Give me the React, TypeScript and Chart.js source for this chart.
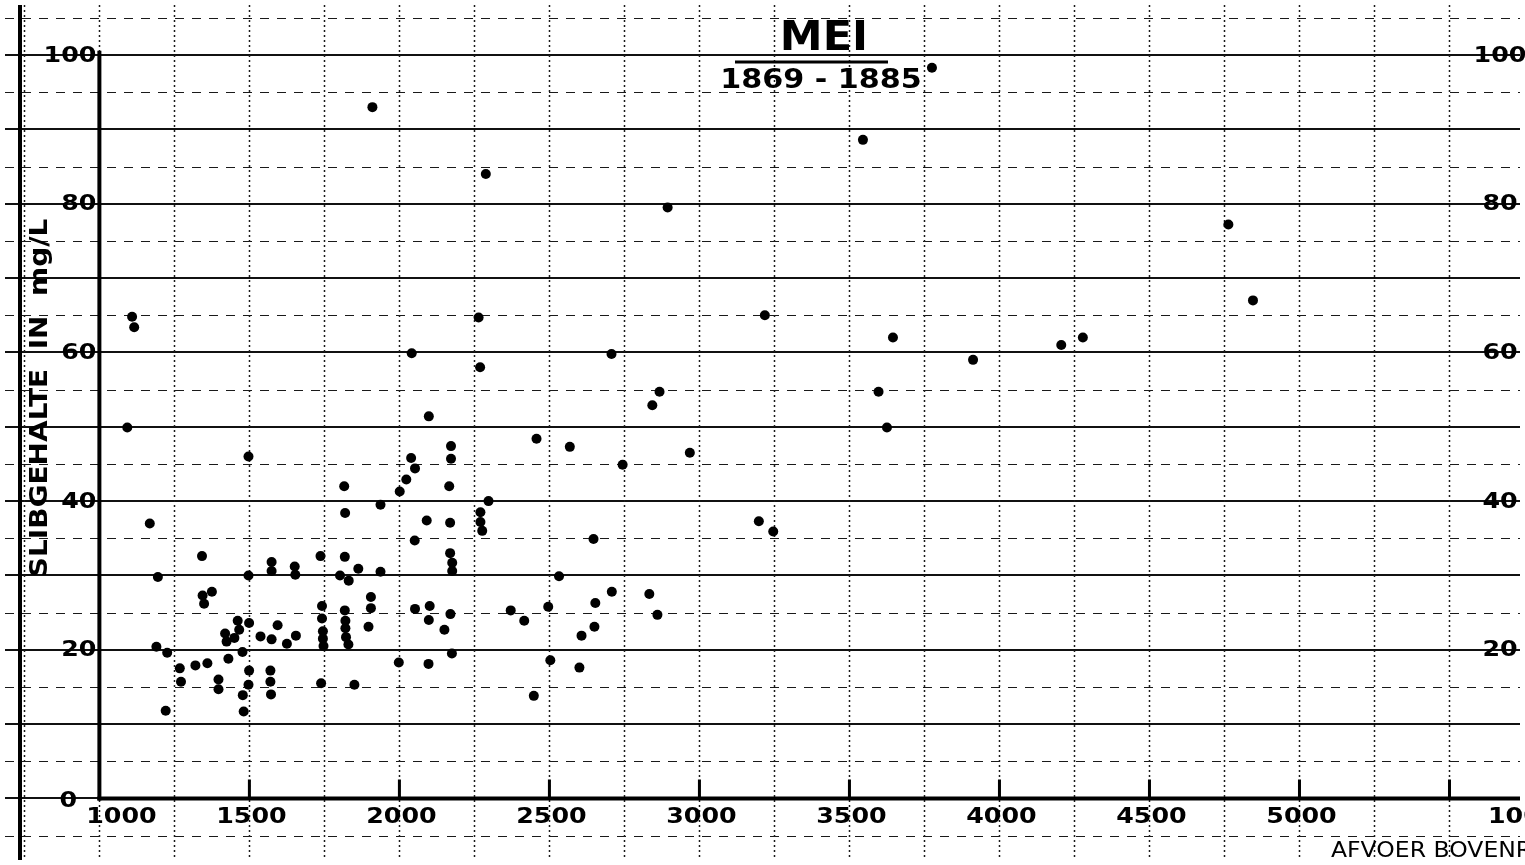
import React, { useEffect, useRef } from "react";
import { Chart, registerables } from "chart.js";

Chart.register(...registerables);

// Afvoer (m3/s) and slibgehalte (mg/L)
const afvoer = [
  1093, 1109, 1116, 1168, 1190, 1195, 1221, 1226, 1268, 1272,
  1320, 1342, 1344, 1349, 1360, 1375, 1397, 1397, 1419, 1424,
  1430, 1450, 1461, 1466, 1477, 1478, 1481, 1497, 1497, 1497,
  1499, 1499, 1537, 1570, 1570, 1572, 1574, 1574, 1574, 1594,
  1625, 1651, 1653, 1655, 1737, 1739, 1742, 1742, 1745, 1745,
  1747, 1802, 1816, 1818, 1818, 1819, 1820, 1820, 1822, 1830,
  1831, 1850, 1863, 1897, 1905, 1905, 1910, 1937, 1937, 1998,
  2001, 2023, 2039, 2041, 2051, 2052, 2052, 2091, 2097, 2098,
  2098, 2101, 2150, 2166, 2169, 2169, 2170, 2172, 2172, 2175,
  2176, 2176, 2264, 2269, 2270, 2270, 2276, 2288, 2297, 2371,
  2416, 2448, 2457, 2496, 2503, 2532, 2568, 2600, 2607, 2647,
  2650, 2653, 2707, 2708, 2744, 2833, 2843, 2860, 2867, 2894,
  2968, 3198, 3218, 3246, 3545, 3597, 3625, 3645, 3775, 3912,
  4206, 4278, 4763, 4845,
];
const slib = [
  49.9, 64.8, 63.4, 37.0, 20.4, 29.8, 11.8, 19.6, 17.5, 15.7,
  17.9, 32.6, 27.3, 26.2, 18.2, 27.8, 16.0, 14.7, 22.2, 21.1,
  18.8, 21.6, 23.9, 22.7, 19.7, 13.9, 11.7, 46.0, 30.0, 15.3,
  23.6, 17.2, 21.8, 17.2, 15.7, 14.0, 31.8, 30.6, 21.4, 23.3,
  20.8, 31.2, 30.1, 21.9, 32.6, 15.5, 25.9, 24.2, 22.5, 21.5,
  20.5, 30.0, 42.0, 32.5, 25.3, 38.4, 23.9, 22.9, 21.7, 20.7,
  29.3, 15.3, 30.9, 23.1, 27.1, 25.6, 93.0, 39.5, 30.5, 18.3,
  41.3, 42.9, 45.8, 59.9, 34.7, 44.4, 25.5, 37.4, 18.1, 51.4,
  24.0, 25.9, 22.7, 42.0, 37.1, 33.0, 24.8, 47.4, 45.7, 19.5,
  31.7, 30.6, 64.7, 58.0, 38.5, 37.2, 36.0, 84.0, 40.0, 25.3,
  23.9, 13.8, 48.4, 25.8, 18.6, 29.9, 47.3, 17.6, 21.9, 34.9,
  23.1, 26.3, 59.8, 27.8, 44.9, 27.5, 52.9, 24.7, 54.7, 79.5,
  46.5, 37.3, 65.0, 35.9, 88.6, 54.7, 49.9, 62.0, 98.3, 59.0,
  61.0, 62.0, 77.2, 67.0,
];

const xTickLabels = [1000, 1500, 2000, 2500, 3000, 3500, 4000, 4500, 5000];
const xTickMarks = [1500, 2000, 2500, 3000, 3500, 4000, 4500, 5000, 5500];
const yTickLabels = [0, 20, 40, 60, 80, 100];
const rightYLabels = [20, 40, 60, 80, 100];
const cutLabel = "10000";
const titleText = "MEI";
const subtitleText = "1869 - 1885";
const yTitle = "SLIBGEHALTE  IN  mg/L";
const xTitle = "AFVOER BOVENRIJN IN m³/sec";

const X_MIN = 685.4;
const X_MAX = 5735;
const Y_MIN = -8.28;
const Y_MAX = 106.74;
const X_GRID_STEP = 250;
const Y_MINOR_STEP = 5;

function drawText(
  ctx: CanvasRenderingContext2D,
  text: string,
  x: number,
  y: number,
  font: string,
  align: CanvasTextAlign,
  sx = 1
) {
  ctx.save();
  ctx.translate(x, y);
  ctx.scale(sx, 1);
  ctx.font = font;
  ctx.textAlign = align;
  ctx.textBaseline = "middle";
  ctx.fillStyle = "#000";
  ctx.fillText(text, 0, 0);
  ctx.restore();
}

const gridPlugin = {
  id: "dashedGrid",
  beforeDatasetsDraw(chart: any) {
    const { ctx, scales, chartArea } = chart;
    const x = scales.x;
    const y = scales.y;
    ctx.save();
    ctx.strokeStyle = "#1a1a1a";
    // vertical dotted lines every 250
    ctx.lineWidth = 1.5;
    ctx.setLineDash([2, 3]);
    ctx.beginPath();
    for (let v = Math.ceil(x.min / X_GRID_STEP) * X_GRID_STEP; v <= x.max; v += X_GRID_STEP) {
      const p = Math.round(x.getPixelForValue(v)) + 0.5;
      ctx.moveTo(p, chartArea.top);
      ctx.lineTo(p, chartArea.bottom);
    }
    ctx.stroke();
    // horizontal dashed lines at the odd fives
    ctx.lineWidth = 1.2;
    ctx.setLineDash([9, 8]);
    ctx.beginPath();
    for (let v = Math.ceil(y.min / Y_MINOR_STEP) * Y_MINOR_STEP; v <= y.max; v += Y_MINOR_STEP) {
      if (Math.abs(v % 10) < 1e-6) continue;
      const p = Math.round(y.getPixelForValue(v)) + 0.5;
      ctx.moveTo(chartArea.left, p);
      ctx.lineTo(chartArea.right, p);
    }
    ctx.stroke();
    ctx.restore();
  },
};

const decorPlugin = {
  id: "decor",
  beforeDatasetsDraw(chart: any) {
    const { ctx, scales, chartArea } = chart;
    const x = scales.x;
    const y = scales.y;
    const px = (v: number) => x.getPixelForValue(v);
    const py = (v: number) => y.getPixelForValue(v);
    ctx.save();
    ctx.strokeStyle = "#000";
    ctx.lineCap = "butt";
    ctx.setLineDash([]);

    // neighbouring sheet edge line
    ctx.lineWidth = 4;
    ctx.beginPath();
    ctx.moveTo(chartArea.left + 15, chartArea.top);
    ctx.lineTo(chartArea.left + 15, chartArea.bottom);
    ctx.stroke();

    // y axis
    ctx.lineWidth = 4;
    ctx.beginPath();
    ctx.moveTo(px(1000), py(100.6));
    ctx.lineTo(px(1000), py(0) + 2);
    ctx.stroke();
    // x axis
    ctx.beginPath();
    ctx.moveTo(px(1000) - 2, py(0));
    ctx.lineTo(chartArea.right, py(0));
    ctx.stroke();

    // tick marks (upward)
    ctx.lineWidth = 3;
    ctx.beginPath();
    for (const t of xTickMarks) {
      ctx.moveTo(px(t), py(0));
      ctx.lineTo(px(t), py(0) - 19);
    }
    ctx.stroke();
    ctx.restore();

    const tickFont = "bold 22px 'DejaVu Sans'";
    // x tick labels
    for (const t of xTickLabels) {
      const off = t === 1000 ? 22 : 2;
      drawText(ctx, String(t), px(t) + off, py(0) + 19, tickFont, "center", 1.15);
    }
    drawText(ctx, cutLabel, chartArea.right - 32, py(0) + 19, tickFont, "left", 1.15);

    // y tick labels (left)
    for (const t of yTickLabels) {
      if (t === 0) {
        drawText(ctx, "0", px(1000) - 31, py(0) + 3, tickFont, "center", 1.15);
      } else {
        drawText(ctx, String(t), px(1000) - 3, py(t) + 1, tickFont, "right", 1.15);
      }
    }
    // y tick labels (right, cut off by the page edge)
    for (const t of rightYLabels) {
      drawText(ctx, String(t), chartArea.right - 20, py(t) + 1, tickFont, "center", 1.15);
    }

    // title
    const cx = chartArea.left + 819;
    drawText(ctx, titleText, cx, chartArea.top + 34, "bold 41px 'DejaVu Sans'", "center", 1.05);
    ctx.save();
    ctx.strokeStyle = "#000";
    ctx.lineWidth = 3;
    ctx.beginPath();
    ctx.moveTo(chartArea.left + 730, chartArea.top + 57);
    ctx.lineTo(chartArea.left + 883, chartArea.top + 57);
    ctx.stroke();
    ctx.restore();
    drawText(ctx, subtitleText, cx - 3, chartArea.top + 76, "bold 26px 'DejaVu Sans'", "center", 1.16);

    // y axis title (rotated)
    ctx.save();
    ctx.translate(chartArea.left + 35, chartArea.top + 393);
    ctx.rotate(-Math.PI / 2);
    ctx.scale(1.12, 1);
    ctx.font = "bold 25px 'DejaVu Sans'";
    ctx.textAlign = "center";
    ctx.textBaseline = "middle";
    ctx.fillStyle = "#000";
    ctx.fillText(yTitle, 0, 0);
    ctx.restore();

    // x axis title (cut off by the page edge)
    drawText(ctx, xTitle, chartArea.left + 1326, chartArea.top + 847, "21px 'DejaVu Sans'", "left", 1.12);
  },
};

export default function App() {
  const canvasRef = useRef<HTMLCanvasElement | null>(null);

  useEffect(() => {
    const canvas = canvasRef.current;
    if (!canvas) return;
    const points = afvoer.map((v, i) => ({ x: v, y: slib[i] }));
    const chart = new Chart(canvas, {
      type: "scatter",
      data: {
        datasets: [
          {
            label: "Slibgehalte",
            data: points,
            backgroundColor: "#000",
            borderColor: "#000",
            borderWidth: 0,
            pointRadius: 5,
            pointHoverRadius: 5,
          },
        ],
      },
      options: {
        responsive: false,
        animation: false,
        devicePixelRatio: 1,
        layout: { padding: 0 },
        plugins: {
          legend: { display: false },
          tooltip: { enabled: false },
          title: { display: false },
        },
        scales: {
          x: {
            type: "linear",
            position: "bottom",
            min: X_MIN,
            max: X_MAX,
            ticks: { display: false, stepSize: 250 },
            grid: { display: false, drawTicks: false },
            border: { display: false },
          },
          y: {
            type: "linear",
            position: "left",
            min: Y_MIN,
            max: Y_MAX,
            ticks: { display: false, stepSize: 10 },
            grid: {
              drawTicks: false,
              color: (c: any) => {
                const v = c.tick ? c.tick.value : NaN;
                return Math.abs(v / 10 - Math.round(v / 10)) < 1e-6 ? "#111" : "rgba(0,0,0,0)";
              },
              lineWidth: 2,
            },
            border: { display: false },
          },
        },
      },
      plugins: [gridPlugin, decorPlugin],
    });
    return () => chart.destroy();
  }, []);

  return (
    <div
      style={{
        position: "fixed",
        left: 0,
        top: 0,
        width: 1525,
        height: 865,
        overflow: "hidden",
        background: "#fff",
      }}
    >
      <canvas ref={canvasRef} width={1525} height={865} />
    </div>
  );
}
